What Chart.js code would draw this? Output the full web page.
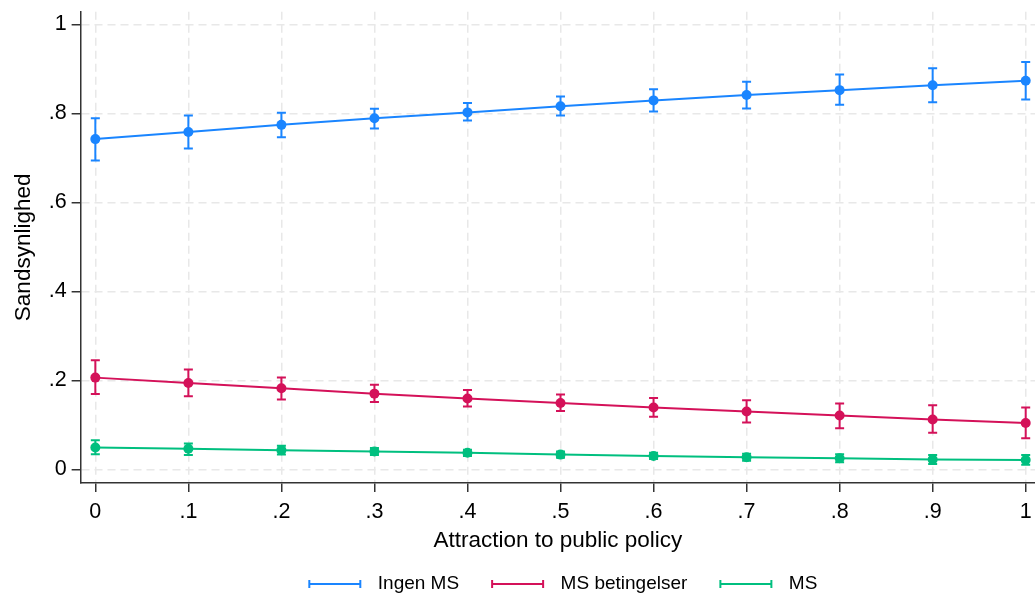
<!DOCTYPE html>
<html>
<head>
<meta charset="utf-8">
<script src="https://cdn.jsdelivr.net/npm/chart.js@4.4.1/dist/chart.umd.min.js"></script>
<style>
  html, body { margin: 0; padding: 0; background: #ffffff; }
  #wrap { width: 1035px; height: 594px; position: relative; }
</style>
</head>
<body>
<div id="wrap"><canvas id="c"></canvas></div>
<script>
// ---- data ----
const xValues = [0, 0.1, 0.2, 0.3, 0.4, 0.5, 0.6, 0.7, 0.8, 0.9, 1];
const xTicks = [0, 0.1, 0.2, 0.3, 0.4, 0.5, 0.6, 0.7, 0.8, 0.9, 1];
const yTicks = [0, 0.2, 0.4, 0.6, 0.8, 1];

const ingenMS    = [0.742, 0.758, 0.774, 0.789, 0.802, 0.816, 0.829, 0.841, 0.852, 0.863, 0.873];
const ingenMSLo  = [0.694, 0.721, 0.746, 0.766, 0.784, 0.795, 0.804, 0.811, 0.819, 0.825, 0.831];
const ingenMSHi  = [0.789, 0.795, 0.801, 0.810, 0.823, 0.838, 0.854, 0.871, 0.887, 0.901, 0.915];

const msBeting   = [0.206, 0.194, 0.182, 0.170, 0.159, 0.149, 0.139, 0.130, 0.121, 0.112, 0.104];
const msBetingLo = [0.169, 0.164, 0.157, 0.151, 0.141, 0.131, 0.118, 0.105, 0.092, 0.082, 0.070];
const msBetingHi = [0.245, 0.224, 0.206, 0.190, 0.178, 0.168, 0.160, 0.155, 0.148, 0.144, 0.139];

const ms         = [0.049, 0.046, 0.043, 0.040, 0.037, 0.033, 0.030, 0.027, 0.025, 0.022, 0.021];
const msLo       = [0.034, 0.032, 0.033, 0.032, 0.030, 0.026, 0.023, 0.019, 0.016, 0.012, 0.010];
const msHi       = [0.065, 0.058, 0.053, 0.048, 0.044, 0.040, 0.037, 0.035, 0.034, 0.032, 0.032];

const seriesNames = ['Ingen MS', 'MS betingelser', 'MS'];
const colors = ['#1a85ff', '#d41159', '#00bf7f'];

// ---- helpers ----
function pts(arr) { return xValues.map((x, i) => ({ x: x, y: arr[i] })); }
function fmt(v) {
  if (Math.abs(v) < 1e-9) return '0';
  if (Math.abs(v - 1) < 1e-9) return '1';
  return v.toFixed(1).replace(/^0/, '');
}
function legendSymbol(color) {
  const cv = document.createElement('canvas');
  cv.width = 70; cv.height = 10;
  const c = cv.getContext('2d');
  c.strokeStyle = color; c.lineWidth = 2;
  const x0 = 10, x1 = 63;
  c.beginPath(); c.moveTo(x0, 5); c.lineTo(x1, 5); c.stroke();
  c.beginPath(); c.moveTo(x0 + 1, 1); c.lineTo(x0 + 1, 9); c.moveTo(x1 - 1, 1); c.lineTo(x1 - 1, 9); c.stroke();
  return cv;
}

const errs = [[ingenMSLo, ingenMSHi], [msBetingLo, msBetingHi], [msLo, msHi]];

const errorBars = {
  id: 'errorBars',
  beforeDatasetsDraw(chart) {
    const { ctx, scales: { x, y } } = chart;
    ctx.save();
    chart.data.datasets.forEach((ds, di) => {
      const [lo, hi] = errs[di];
      ctx.strokeStyle = colors[di];
      ctx.lineWidth = 2;
      xValues.forEach((xv, i) => {
        const px = x.getPixelForValue(xv);
        const pLo = y.getPixelForValue(lo[i]);
        const pHi = y.getPixelForValue(hi[i]);
        ctx.beginPath();
        ctx.moveTo(px, pLo); ctx.lineTo(px, pHi);
        ctx.moveTo(px - 4.5, pLo); ctx.lineTo(px + 4.5, pLo);
        ctx.moveTo(px - 4.5, pHi); ctx.lineTo(px + 4.5, pHi);
        ctx.stroke();
      });
    });
    ctx.restore();
  }
};

const font = 'Liberation Sans, Arial, sans-serif';

new Chart(document.getElementById('c'), {
  type: 'line',
  data: {
    datasets: [
      { label: seriesNames[0], data: pts(ingenMS), borderColor: colors[0], backgroundColor: colors[0] },
      { label: seriesNames[1], data: pts(msBeting), borderColor: colors[1], backgroundColor: colors[1] },
      { label: seriesNames[2], data: pts(ms), borderColor: colors[2], backgroundColor: colors[2] }
    ].map(d => Object.assign(d, {
      borderWidth: 2, pointRadius: 5, pointHoverRadius: 5, pointBorderWidth: 0, tension: 0, clip: false
    }))
  },
  options: {
    responsive: true,
    maintainAspectRatio: false,
    animation: false,
    layout: { autoPadding: false, padding: { top: 11.7, right: 0, left: 0, bottom: -9.5 } },
    scales: {
      x: {
        type: 'linear',
        min: -0.0158, max: 1.010,
        afterBuildTicks(axis) { axis.ticks = xTicks.map(v => ({ value: v })); },
        afterFit(axis) { axis.paddingLeft = 0; axis.paddingRight = 0; },
        ticks: { callback: v => fmt(v), color: '#000', font: { family: font, size: 21.5 }, padding: 7.5, maxRotation: 0, autoSkip: false },
        grid: { color: '#e8e8e8', lineWidth: 1.5, tickColor: '#333', tickLength: 9, tickWidth: 1.5 },
        border: { color: '#333', width: 1.5, dash: [8, 5] },
        title: { display: true, text: 'Attraction to public policy', color: '#000', font: { family: font, size: 22.5 }, padding: { top: -5.3, bottom: -2 } }
      },
      y: {
        type: 'linear',
        min: -0.0308, max: 1.0283,
        afterBuildTicks(axis) { axis.ticks = yTicks.map(v => ({ value: v })); },
        afterFit(axis) { axis.paddingTop = 0; axis.paddingBottom = 0; },
        ticks: { callback: v => fmt(v), color: '#000', font: { family: font, size: 21.5 }, padding: 5, autoSkip: false },
        grid: { color: '#e8e8e8', lineWidth: 1.5, tickColor: '#333', tickLength: 9, tickWidth: 1.5 },
        border: { color: '#333', width: 1.5, dash: [8, 5] },
        title: { display: true, text: 'Sandsynlighed', color: '#000', font: { family: font, size: 22.5 }, padding: { top: 10.5, bottom: 6.2 } }
      }
    },
    plugins: {
      tooltip: { enabled: false },
      legend: {
        position: 'bottom',
        fullSize: false,
        labels: {
          usePointStyle: true,
          pointStyleWidth: 70,
          color: '#000',
          font: { family: font, size: 19 },
          padding: 22,
          generateLabels(chart) {
            return seriesNames.map((n, i) => ({
              text: n, pointStyle: legendSymbol(colors[i]), fillStyle: colors[i],
              strokeStyle: colors[i], lineWidth: 0, datasetIndex: i, hidden: false
            }));
          }
        }
      }
    }
  },
  plugins: [errorBars]
});
</script>
</body>
</html>
